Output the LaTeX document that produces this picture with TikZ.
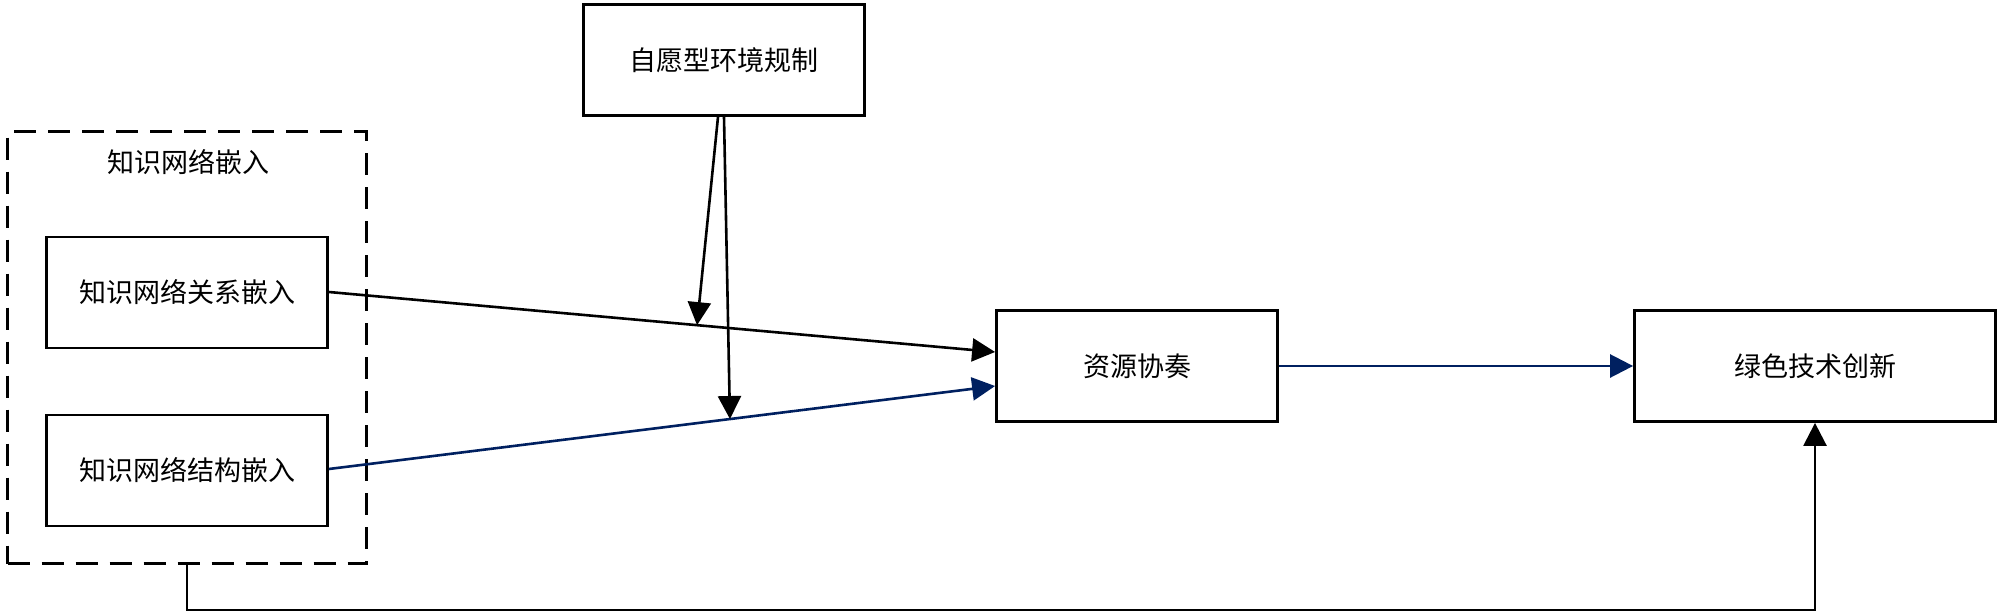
\documentclass[tikz,border=0pt]{standalone}
\usepackage{fontspec}
\newfontfamily\cjk{Noto Sans CJK SC}
\usetikzlibrary{arrows.meta,calc}
\definecolor{navy}{RGB}{0,32,96}
\begin{document}
\begin{tikzpicture}[x=1pt,y=-1pt,
  box/.style={draw,line width=2.8pt,minimum width=281pt,minimum height=111pt,inner sep=0pt,font=\cjk\fontsize{27}{31}\selectfont},
  conn/.style={line width=2.6pt,-{Triangle[length=23pt,width=23pt]}},
  lbl/.style={font=\cjk\fontsize{27}{31}\selectfont,inner sep=0pt}]
\useasboundingbox (0,0) rectangle (2000,613);
\node[draw,dash pattern=on 22pt off 12pt,line width=2.8pt,minimum width=359pt,minimum height=432pt,inner sep=0pt] (grp) at (187,347.5) {};
\node[lbl] (gt) at (188,162) {知识网络嵌入};
\node[box] (r1) at (187,292.5) {知识网络关系嵌入};
\node[box] (r2) at (187,470.5) {知识网络结构嵌入};
\node[box] (mod) at (724,60) {自愿型环境规制};
\node[box] (res) at (1137,366) {资源协奏};
\node[box,minimum width=361pt] (gti) at (1815,366) {绿色技术创新};
\coordinate (a1s) at ($(r1.east)+(0,-0.5)$);
\coordinate (a1e) at ($(res.west)+(0,-14)$);
\coordinate (a2s) at ($(r2.east)+(0,-1.5)$);
\coordinate (a2e) at ($(res.west)+(0,20)$);
\draw[conn] (a1s) -- (a1e);
\draw[conn,navy] (a2s) -- (a2e);
\draw[conn,navy] (res.east) -- (gti.west);
\coordinate (m1) at ($(a1s)!0.5526!(a1e)$);
\coordinate (m2) at ($(a2s)!0.602!(a2e)$);
\draw[conn] ($(mod.south)+(-6,0)$) -- (m1);
\draw[conn] ($(mod.south)+(0,0)$) -- (m2);
\coordinate (b1) at (grp.south |- 0,610);
\draw[conn] (grp.south) -- (b1) -| (gti.south);
\end{tikzpicture}
\end{document}
